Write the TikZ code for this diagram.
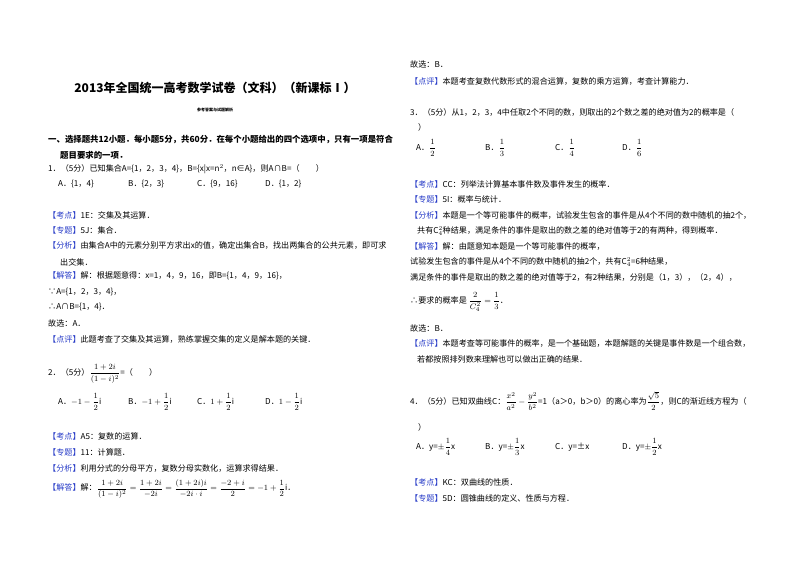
\documentclass[tikz,border=0pt]{standalone}
\usepackage{amsmath}
\usepackage{fontspec}
\setmainfont{Noto Sans CJK SC}
\definecolor{tag}{RGB}{40,60,200}
\newcommand{\tg}[1]{{\color{tag}【#1】}}
\begin{document}
\begin{tikzpicture}[x=1pt,y=-1pt,
  t/.style={anchor=west,inner sep=0pt,font=\fontsize{8.1}{9}\selectfont},
  h/.style={t,font=\fontsize{8.4}{9}\selectfont\bfseries}]
\useasboundingbox[fill=white] (0,0) rectangle (800,565);
\node[inner sep=0pt,font=\fontsize{12}{14}\selectfont\bfseries] (title) at (215,88) {2013年全国统一高考数学试卷（文科）（新课标Ⅰ）};
\node[inner sep=0pt,font=\fontsize{4}{5}\selectfont\bfseries] (sub) at (215,110) {参考答案与试题解析};
\node[h] (l1) at (48,140) {一、选择题共12小题．每小题5分，共60分．在每个小题给出的四个选项中，只有一项是符合};
\node[h] (l2) at (60,155) {题目要求的一项．};
\node[t] (q1) at (48,169) {1．（5分）已知集合A=\{1，2，3，4\}，B=\{x|x=n$^2$，n∈A\}，则A∩B=（\quad\quad）};
\node[t] (q1a) at (58,184) {A．\{1，4\}};
\node[t] (q1b) at (128,184) {B．\{2，3\}};
\node[t] (q1c) at (197,184) {C．\{9，16\}};
\node[t] (q1d) at (265,184) {D．\{1，2\}};
\node[t] (k1) at (48,215) {\tg{考点}1E：交集及其运算．};
\node[t] (z1) at (48,230) {\tg{专题}5J：集合．};
\node[t] (f1) at (48,245) {\tg{分析}由集合A中的元素分别平方求出x的值，确定出集合B，找出两集合的公共元素，即可求};
\node[t] (f1b) at (60,262) {出交集．};
\node[t] (j1) at (48,276) {\tg{解答}解：根据题意得：x=1，4，9，16，即B=\{1，4，9，16\}，};
\node[t] (j1b) at (48,292) {∵A=\{1，2，3，4\}，};
\node[t] (j1c) at (48,307) {∴A∩B=\{1，4\}．};
\node[t] (j1d) at (48,323) {故选：A．};
\node[t] (p1) at (48,339) {\tg{点评}此题考查了交集及其运算，熟练掌握交集的定义是解本题的关键．};
\node[t] (q2) at (48,374) {2．（5分）$\dfrac{1+2i}{(1-i)^2}$=（\quad\quad）};
\node[t] (q2a) at (58,402) {A．$-1-\dfrac{1}{2}$i};
\node[t] (q2b) at (128,402) {B．$-1+\dfrac{1}{2}$i};
\node[t] (q2c) at (197,402) {C．$1+\dfrac{1}{2}$i};
\node[t] (q2d) at (265,402) {D．$1-\dfrac{1}{2}$i};
\node[t] (k2) at (48,436) {\tg{考点}A5：复数的运算．};
\node[t] (z2) at (48,452) {\tg{专题}11：计算题．};
\node[t] (f2) at (48,468) {\tg{分析}利用分式的分母平方，复数分母实数化，运算求得结果．};
\node[t] (j2) at (48,489) {\tg{解答}解：$\dfrac{1+2i}{(1-i)^2}=\dfrac{1+2i}{-2i}=\dfrac{(1+2i)i}{-2i\cdot i}=\dfrac{-2+i}{2}=-1+\dfrac{1}{2}$i．};
% right column
\node[t] (g2) at (410,64) {故选：B．};
\node[t] (p2) at (410,82) {\tg{点评}本题考查复数代数形式的混合运算，复数的乘方运算，考查计算能力．};
\node[t] (q3) at (410,112) {3．（5分）从1，2，3，4中任取2个不同的数，则取出的2个数之差的绝对值为2的概率是（};
\node[t] (q3b) at (418,127) {）};
\node[t] (q3a1) at (416,148) {A．$\dfrac{1}{2}$};
\node[t] (q3a2) at (485,148) {B．$\dfrac{1}{3}$};
\node[t] (q3a3) at (555,148) {C．$\dfrac{1}{4}$};
\node[t] (q3a4) at (622,148) {D．$\dfrac{1}{6}$};
\node[t] (k3) at (410,184) {\tg{考点}CC：列举法计算基本事件数及事件发生的概率．};
\node[t] (z3) at (410,199) {\tg{专题}5I：概率与统计．};
\node[t] (f3) at (410,215) {\tg{分析}本题是一个等可能事件的概率，试验发生包含的事件是从4个不同的数中随机的抽2个，};
\node[t] (f3b) at (417,231) {共有C$_4^2$种结果，满足条件的事件是取出的数之差的绝对值等于2的有两种，得到概率．};
\node[t] (j3) at (410,246) {\tg{解答}解：由题意知本题是一个等可能事件的概率，};
\node[t] (j3b) at (410,262) {试验发生包含的事件是从4个不同的数中随机的抽2个，共有C$_4^2$=6种结果，};
\node[t] (j3c) at (410,277) {满足条件的事件是取出的数之差的绝对值等于2，有2种结果，分别是（1，3），（2，4），};
\node[t] (j3d) at (410,302) {∴要求的概率是 $\dfrac{2}{C_4^2}=\dfrac{1}{3}$．};
\node[t] (j3e) at (410,328) {故选：B．};
\node[t] (p3) at (410,343) {\tg{点评}本题考查等可能事件的概率，是一个基础题，本题解题的关键是事件数是一个组合数，};
\node[t] (p3b) at (417,359) {若都按照排列数来理解也可以做出正确的结果．};
\node[t] (q4) at (410,401) {4．（5分）已知双曲线C：$\dfrac{x^2}{a^2}-\dfrac{y^2}{b^2}$=1（a＞0，b＞0）的离心率为$\dfrac{\sqrt{5}}{2}$，则C的渐近线方程为（};
\node[t] (q4b) at (418,427) {）};
\node[t] (q4a1) at (416,447) {A．y=$\pm\dfrac{1}{4}$x};
\node[t] (q4a2) at (485,447) {B．y=$\pm\dfrac{1}{3}$x};
\node[t] (q4a3) at (555,447) {C．y=±x};
\node[t] (q4a4) at (622,447) {D．y=$\pm\dfrac{1}{2}$x};
\node[t] (k4) at (410,482) {\tg{考点}KC：双曲线的性质．};
\node[t] (z4) at (410,498) {\tg{专题}5D：圆锥曲线的定义、性质与方程．};
\end{tikzpicture}
\end{document}
